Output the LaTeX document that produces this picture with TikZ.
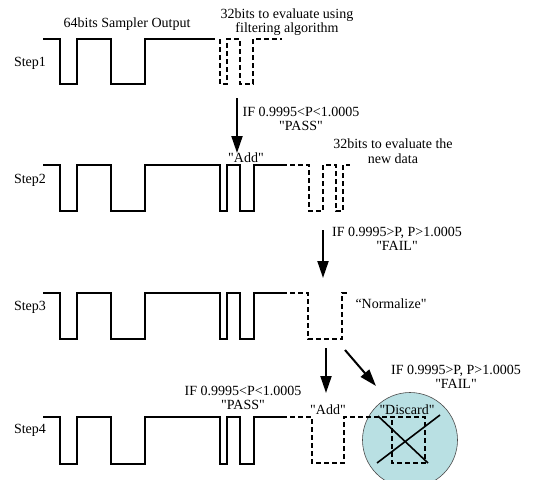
\documentclass[tikz,border=0pt]{standalone}
\usepackage{fontspec}
\setmainfont{Liberation Serif}[Ligatures=TeXOff]
\usetikzlibrary{positioning, calc, arrows.meta}
\definecolor{Disc}{HTML}{B9E0E3}
\definecolor{Ink}{HTML}{000000}
\tikzset{
    wave/.style={line width=1.6pt, color=Ink, line join=miter},
    dwave/.style={wave, dash pattern=on 5pt off 3pt},
    txt/.style={inner sep=0pt, align=center, text=Ink},
    arrow/.style={-{Triangle[length=17pt,width=11pt]}, line width=2pt, color=Ink},
    discnode/.style={circle, fill=Disc, draw=black!70, line width=0.6pt, minimum size=95pt, inner sep=0pt},
}

\begin{document}
\begin{tikzpicture}[x=1pt, y=-1pt, font=\fontsize{14}{14.5}\selectfont]
                \useasboundingbox (0,0) rectangle (534,479);
                % sampler output, common part of all four rows
                \foreach \n/\hi/\lo/\ty in {1/39/84/63, 2/165/211/180, 3/293/339/307, 4/417/464/430} {
                    \node[txt] (step\n) at (30,\ty) {Step\n};
                    \draw[wave] (43,\hi) -- (60,\hi) -- (60,\lo) -- (77,\lo) -- (77,\hi) -- (111,\hi) -- (111,\lo)
                        -- (145,\lo) -- (145,\hi) -- (215,\hi);
                }
                \foreach \hi/\lo in {165/211, 293/339, 417/464}
                    \draw[wave] (214,\hi) -- (220,\hi) -- (220,\lo) -- (227,\lo) -- (227,\hi) -- (240,\hi) -- (240,\lo)
                        -- (254,\lo) -- (254,\hi) -- (282,\hi);

                % discard circle
                \node[discnode] (disc) at (410,440) {};

                % dashed parts
                \draw[dwave] (220,39) -- (220,84) -- (227,84) -- (227,39) -- (240,39) -- (240,84) -- (253,84) -- (253,39) -- (282,39);
                \draw[dwave] (282,165) -- (309,165) -- (309,211) -- (323,211) -- (323,165) -- (336,165) -- (336,211)
                    -- (343,211) -- (343,165) -- (350,165);
                \draw[dwave] (282,293) -- (308,293) -- (308,339) -- (342,339) -- (342,293) -- (349,293);
                \draw[dwave] (282,417) -- (312,417) -- (312,463) -- (344,463) -- (344,417) -- (425,417) -- (425,463)
                    -- (392,463) -- (392,417);
                \draw[line width=1.6pt] (378,416) -- (428,463) (377,463) -- (440,415);

                % labels
                \node[txt] (title) at (127,24) {64bits Sampler Output};
                \node[txt] (eval1) at (287,22) {32bits to evaluate using\\filtering algorithm};
                \node[txt] (pass1) at (301,119) {IF 0.9995<P<1.0005\\"PASS"};
                \node[txt] (add1) at (246,158) {"Add"};
                \node[txt] (eval2) at (393,151) {32bits to evaluate the\\new data};
                \node[txt] (fail1) at (397,239) {IF 0.9995>P, P>1.0005\\"FAIL"};
                \node[txt] (norm) at (391,304) {“Normalize"};
                \node[txt] (pass2) at (243,398) {IF 0.9995<P<1.0005\\"PASS"};
                \node[txt] (add2) at (328,410) {"Add"};
                \node[txt] (fail2) at (456,377) {IF 0.9995>P, P>1.0005\\"FAIL"};
                \node[txt] (discard) at (407,410) {"Discard"};

                % arrows
                \coordinate (a1s) at (237,98);  \coordinate (a1e) at (237,153);
                \coordinate (a2s) at (323,230); \coordinate (a2e) at (323,278);
                \coordinate (a3s) at (326,348); \coordinate (a3e) at (326,393);
                \coordinate (a4s) at (345,350); \coordinate (a4e) at (376,386);
                \draw[arrow] (a1s) -- (a1e);
                \draw[arrow] (a2s) -- (a2e);
                \draw[arrow] (a3s) -- (a3e);
                \draw[arrow] (a4s) -- (a4e);
\end{tikzpicture}
\end{document}
